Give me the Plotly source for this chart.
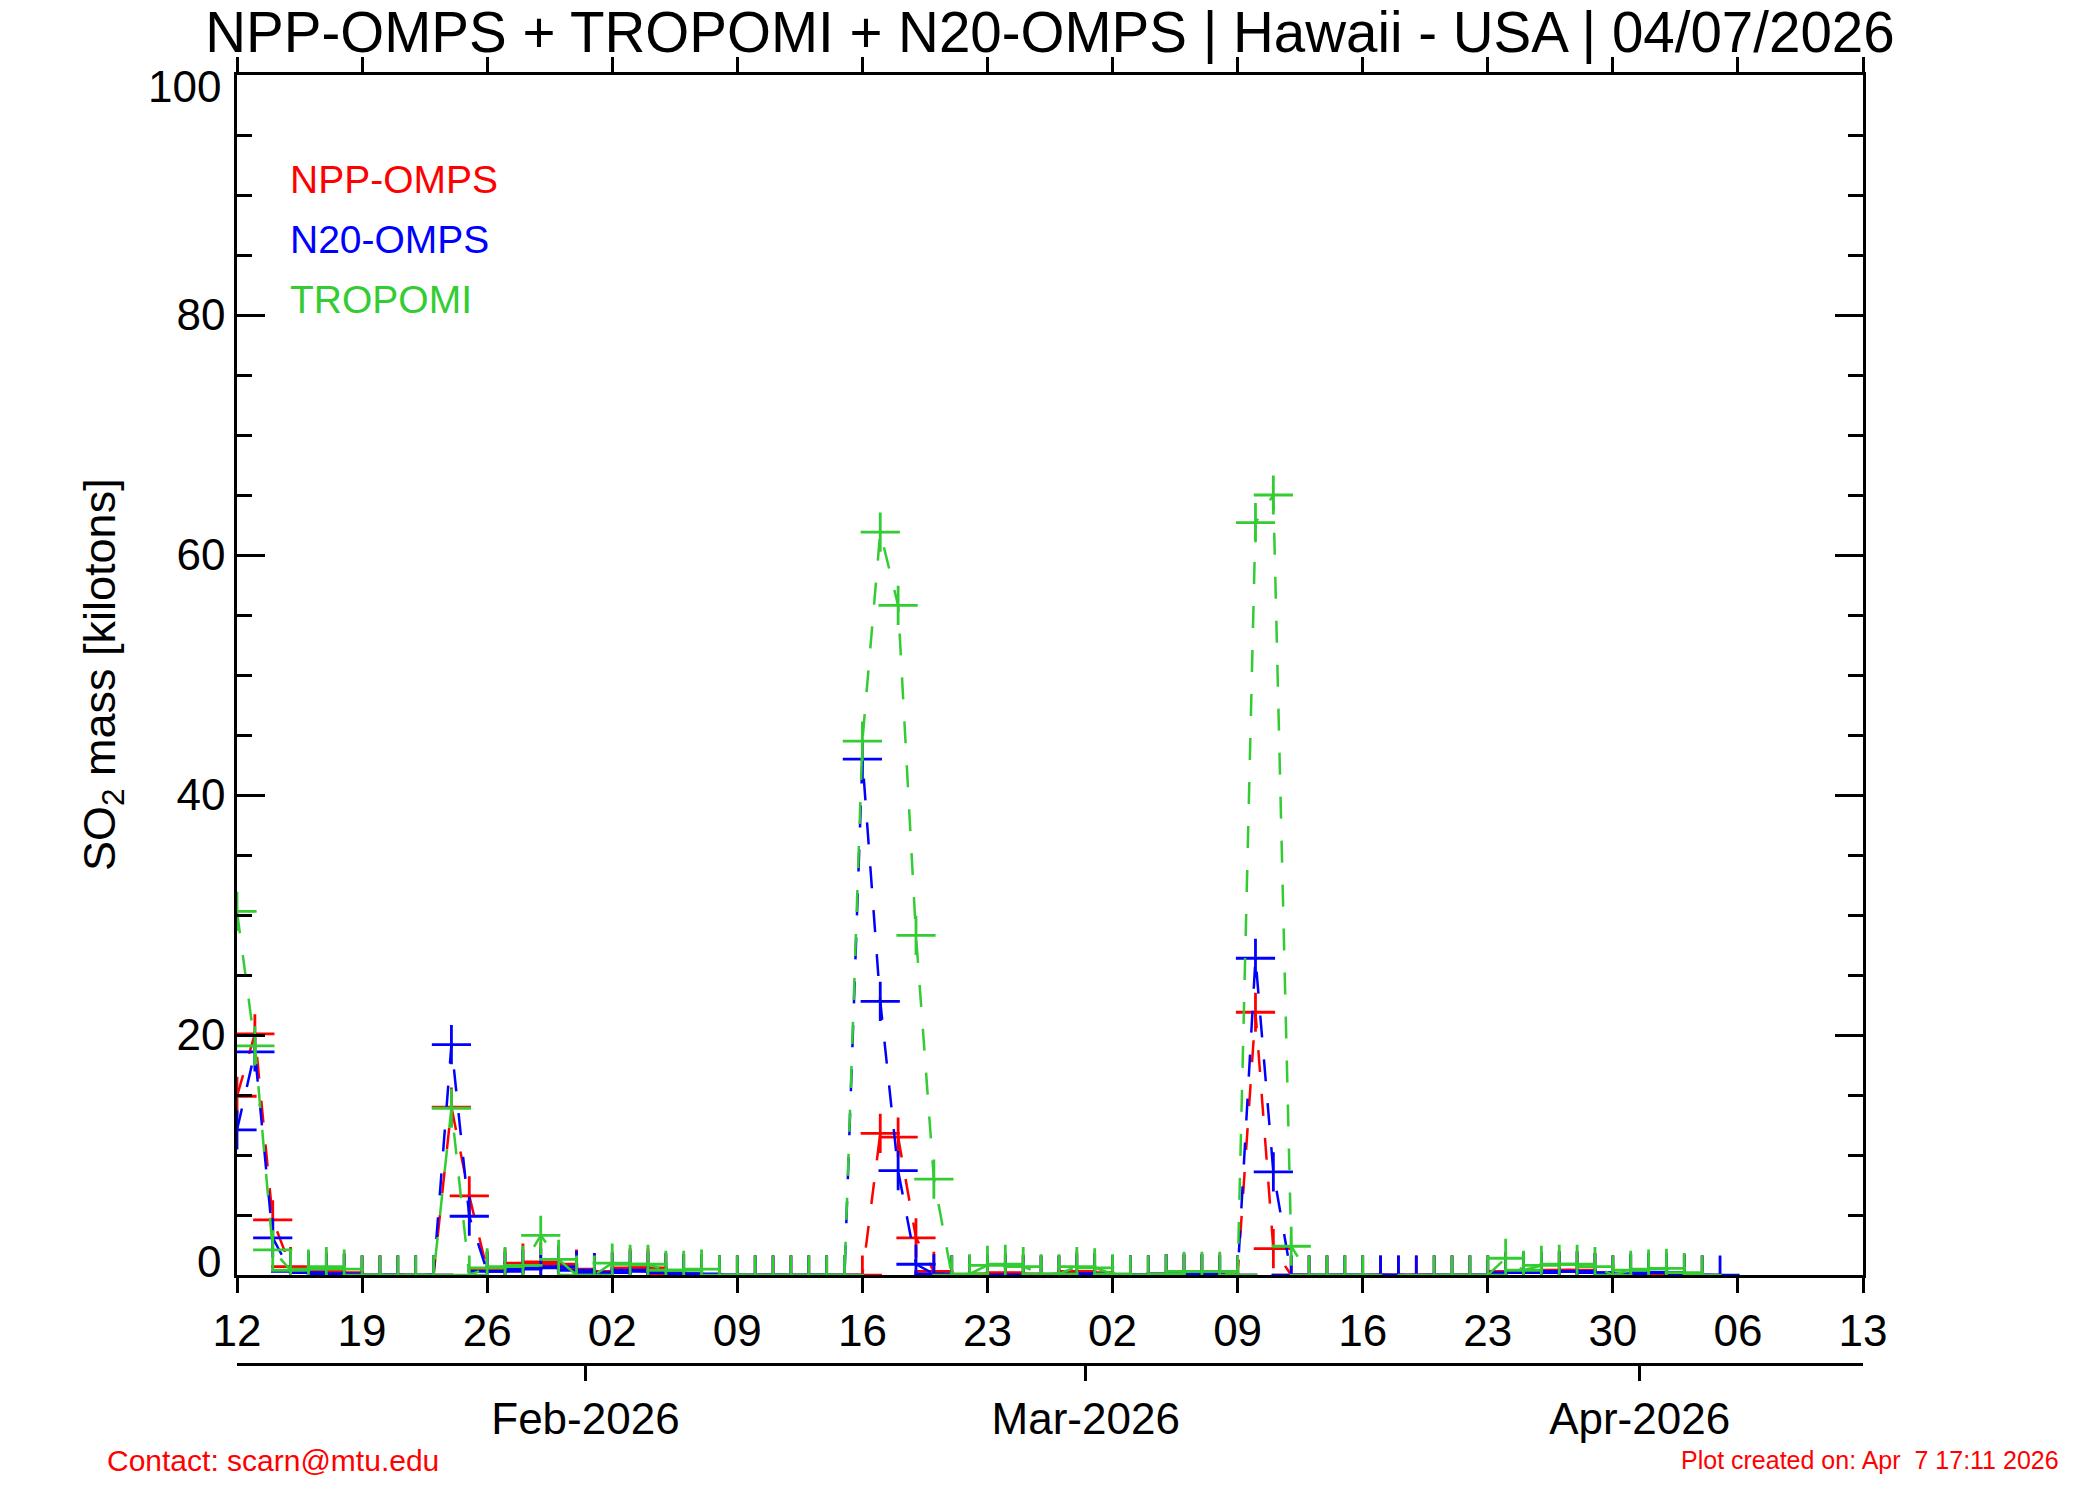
import pandas as pd
import plotly.graph_objects as go

# daily values (kilotons SO2), one per day from 12 Jan 2026, plotted at midday
dates = pd.date_range("2026-01-12 12:00", "2026-04-05 12:00", freq="D")

npp_omps = [14.9, 20.1, 4.6, 0.7, 0.3, 0.3, 0.2, 0, 0, 0, 0, 0,
            14.0, 6.6, 0.4, 0.6, 1.0, 1.1, 0.9, 0.5, 0.2, 0.3, 0.6, 0.6,
            0.1, 0.1, 0, 0, 0, 0, 0, 0, 0, 0, 0,
            0, 11.8, 11.5, 3.1, 0.3, 0, 0, 0.1, 0.2, 0.1, 0, 0, 0.3,
            0.2, 0, 0, 0, 0.1, 0.1, 0.1, 0.1, 0,
            21.9, 2.2, 0, 0, 0, 0, 0, 0, 0, 0, 0, 0, 0, 0,
            0.3, 0.3, 0.3, 0.4, 0.4, 0.2, 0, 0.1, 0.1, 0.2, 0.1, 0, None]

n20_omps = [12.1, 18.6, 3.1, 0.3, 0.2, 0.1, 0.1, 0, 0, 0, 0, 0,
            19.2, 4.9, 0.3, 0.3, 0.5, 0.6, 0.7, 0.4, 0.2, 0.2, 0.4, 0.3,
            0.2, 0.1, 0.1, 0, 0, 0, 0, 0, 0, 0, 0,
            43.0, 22.8, 8.7, 0.9, 0.1, 0, 0, 0, 0, 0, 0, 0, 0.1,
            0.1, 0, 0, 0, 0.1, 0.1, 0.1, 0, 0,
            26.4, 8.6, 0, 0, 0, 0, 0, 0, 0, 0, 0, 0, 0, 0,
            0.2, 0.2, 0.2, 0.3, 0.3, 0.2, 0, 0.1, 0.2, 0.2, 0.1, 0, 0]

tropomi = [30.3, 19.1, 2.1, 0.4, 0.5, 0.7, 0.5, 0, 0, 0, 0, 0,
           13.9, 0, 0.6, 0.7, 0.8, 3.3, 1.3, 0, 0, 1.0, 0.9, 0.9,
           0.4, 0.4, 0.5, 0, 0, 0, 0, 0, 0, 0, 0,
           44.5, 61.9, 55.8, 28.3, 8.0, 0, 0.1, 0.8, 0.9, 0.7, 0.1, 0.1, 0.7,
           0.6, 0.1, 0, 0, 0.1, 0.3, 0.3, 0.3, 0,
           62.7, 65.0, 2.4, 0, 0, 0, 0, None, None, None, 0, 0, 0, 0,
           1.4, 0.4, 0.8, 0.9, 0.9, 0.7, 0, 0.4, 0.5, 0.55, 0.2, 0, None]

series = [("NPP-OMPS", npp_omps, "#FF0000"),
          ("N20-OMPS", n20_omps, "#0000FF"),
          ("TROPOMI", tropomi, "#33CC33")]

y_ticks = [0, 20, 40, 60, 80, 100]
month_ticks = ["2026-02-01", "2026-03-01", "2026-04-01"]
month_labels = ["Feb-2026", "Mar-2026", "Apr-2026"]

font = "Liberation Sans, Arial, Helvetica, sans-serif"

fig = go.Figure()
for name, vals, col in series:
    fig.add_trace(go.Scatter(
        x=dates, y=vals, name=name, mode="lines+markers", connectgaps=True,
        line=dict(color=col, width=2.5, dash="22px,22px"),
        marker=dict(symbol="cross-thin", size=28, line=dict(color=col, width=2.8)),
        showlegend=False))

# dummy trace so the month axis gets drawn
fig.add_trace(go.Scatter(x=[dates[0], dates[-1]], y=[None, None], xaxis="x2",
                         showlegend=False, hoverinfo="skip"))

# legend as coloured text
for i, (name, vals, col) in enumerate(series):
    fig.add_annotation(x="2026-01-15 09:00", y=91.3 - 5 * i, xref="x", yref="y",
                       text=name, showarrow=False, xanchor="left", yanchor="middle",
                       font=dict(family=font, size=39, color=col))

# end labels of the y axis sit inside the box, like the original
fig.add_annotation(x=0, xshift=-14, y=y_ticks[0], yshift=14, xref="paper", yref="y",
                   text=str(y_ticks[0]), showarrow=False, xanchor="right", yanchor="middle",
                   font=dict(family=font, size=44, color="black"))
fig.add_annotation(x=0, xshift=-14, y=y_ticks[-1], yshift=-11, xref="paper", yref="y",
                   text=str(y_ticks[-1]), showarrow=False, xanchor="right", yanchor="middle",
                   font=dict(family=font, size=44, color="black"))

fig.add_annotation(x=0, xshift=-135, y=50, xref="paper", yref="y",
                   text="SO<sub>2</sub> mass [kilotons]", textangle=-90,
                   showarrow=False, xanchor="center", yanchor="middle",
                   font=dict(family=font, size=45, color="black"))

fig.add_annotation(x=-0.081, y=-0.0745, xref="paper", yref="paper",
                   text="Contact: scarn@mtu.edu", showarrow=False,
                   xanchor="left", yanchor="middle",
                   font=dict(family=font, size=30, color="#FF0000"))
fig.add_annotation(x=1.122, y=-0.0745, xref="paper", yref="paper",
                   text="Plot created on: Apr\u00a0 7 17:11 2026", showarrow=False,
                   xanchor="right", yanchor="middle",
                   font=dict(family=font, size=25, color="#FF0000"))

fig.update_layout(
    width=2100, height=1500,
    margin=dict(l=229, r=245, t=67, b=144),
    paper_bgcolor="white", plot_bgcolor="white",
    font=dict(family=font, size=44, color="black"),
    title=dict(text="NPP-OMPS + TROPOMI + N20-OMPS | Hawaii - USA | 04/07/2026",
               x=0.5, xref="paper", xanchor="center",
               y=0.984, yref="container", yanchor="middle",
               font=dict(family=font, size=56.5, color="black")),
    xaxis=dict(range=["2026-01-12 12:00", "2026-04-13 12:00"], type="date",
               tick0="2026-01-12 12:00", dtick=7 * 86400000, tickformat="%d",
               ticks="outside", ticklen=15, tickwidth=2.5, tickcolor="black",
               showline=True, linewidth=2.5, linecolor="black", mirror="ticks",
               showgrid=False, zeroline=False, anchor="y",
               tickfont=dict(size=44)),
    xaxis2=dict(matches="x", overlaying="x", anchor="free", position=0, side="bottom",
                type="date", tickmode="array", tickvals=month_ticks, ticktext=month_labels,
                ticks="outside", ticklen=15, tickwidth=2.5, tickcolor="black",
                showline=True, linewidth=3, linecolor="black",
                showgrid=False, zeroline=False, tickfont=dict(size=44)),
    yaxis=dict(range=[0, 100], domain=[0.069, 1], tickmode="array", tickvals=y_ticks,
               ticktext=[""] + [str(v) for v in y_ticks[1:-1]] + [""],
               ticks="inside", ticklen=28, tickwidth=2.5, tickcolor="black",
               minor=dict(dtick=5, ticks="inside", ticklen=15, tickwidth=2.5, tickcolor="black"),
               showline=True, linewidth=2.5, linecolor="black", mirror="ticks",
               showgrid=False, zeroline=False, tickfont=dict(size=44)),
)

fig.write_html("out.html")
